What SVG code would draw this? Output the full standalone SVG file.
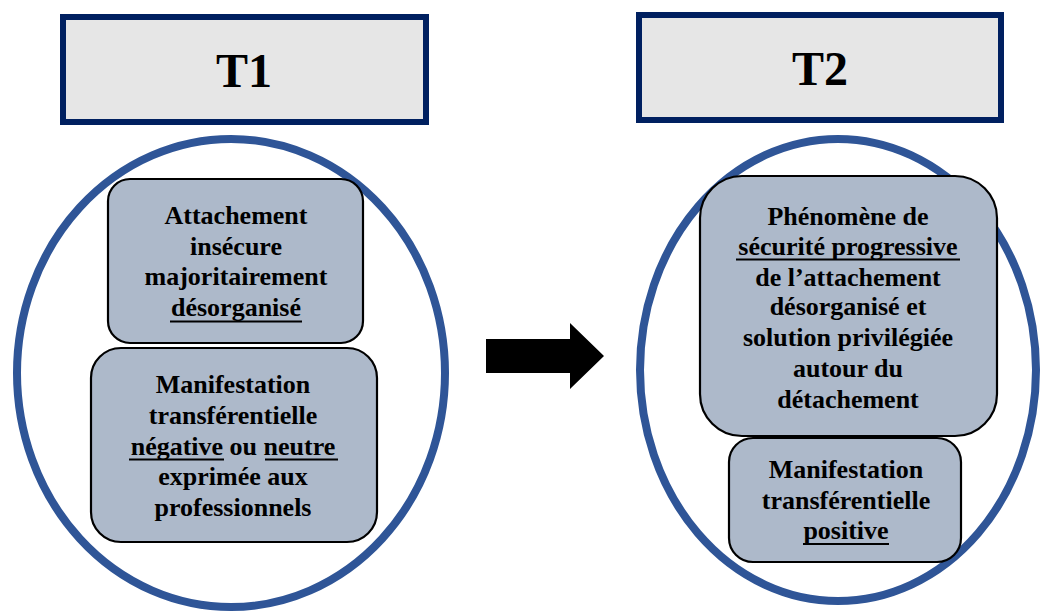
<svg xmlns="http://www.w3.org/2000/svg" width="1040" height="612" viewBox="0 0 1040 612">
<style>
.title{fill:#e6e6e6;stroke:#002060;stroke-width:6}
.ttl{font-family:"Liberation Serif","Times New Roman",serif;font-weight:bold;font-size:48px;text-anchor:middle;fill:#000}
.ell{fill:none;stroke:#2f5597;stroke-width:8}
.box{fill:#adb9ca;stroke:#000;stroke-width:2.2}
.t{font-family:"Liberation Serif","Times New Roman",serif;font-weight:bold;font-size:26px;text-anchor:middle;fill:#000}
.ul{stroke:#000;stroke-width:2}
</style>
<rect width="1040" height="612" fill="#fff"/>
<g id="t1-title">
<rect class="title" x="63" y="17" width="363" height="105"/>
<text class="ttl" x="244" y="87">T1</text>
</g>
<g id="t2-title">
<rect class="title" x="639" y="15" width="362" height="105"/>
<text class="ttl" x="820" y="85">T2</text>
</g>
<g id="t1-group">
<ellipse class="ell" cx="231" cy="373" rx="214" ry="234"/>
</g>
<g id="t2-group">
<ellipse class="ell" cx="838" cy="370" rx="198" ry="231"/>
</g>
<g id="t1-attachement">
<rect class="box" x="108" y="179" width="255" height="164" rx="22"/>
<text class="t" x="236" y="224">Attachement</text>
<text class="t" x="236" y="255">insécure</text>
<text class="t" x="236" y="285">majoritairement</text>
<text class="t" x="236" y="316">désorganisé</text>
<line class="ul" x1="170" y1="321.5" x2="302" y2="321.5"/>
</g>
<g id="t1-manifestation">
<rect class="box" x="91" y="348" width="286" height="194" rx="30"/>
<text class="t" x="233" y="393">Manifestation</text>
<text class="t" x="233" y="424">transférentielle</text>
<text class="t" x="233" y="455">négative ou neutre</text>
<line class="ul" x1="129" y1="459.5" x2="224" y2="459.5"/>
<line class="ul" x1="265" y1="459.5" x2="338" y2="459.5"/>
<text class="t" x="233" y="485">exprimée aux</text>
<text class="t" x="233" y="516">professionnels</text>
</g>
<g id="t2-phenomene">
<rect class="box" x="700" y="176" width="297" height="260" rx="42"/>
<text class="t" x="848" y="225">Phénomène de</text>
<text class="t" x="848" y="255">sécurité progressive</text>
<line class="ul" x1="736" y1="259.5" x2="960" y2="259.5"/>
<text class="t" x="848" y="286">de l’attachement</text>
<text class="t" x="848" y="315">désorganisé et</text>
<text class="t" x="848" y="346">solution privilégiée</text>
<text class="t" x="848" y="377">autour du</text>
<text class="t" x="848" y="408">détachement</text>
</g>
<g id="t2-manifestation">
<rect class="box" x="729" y="438" width="232" height="124" rx="24"/>
<text class="t" x="846" y="478">Manifestation</text>
<text class="t" x="846" y="509">transférentielle</text>
<text class="t" x="846" y="539">positive</text>
<line class="ul" x1="803" y1="544" x2="889" y2="544"/>
</g>
<g id="connectors">
<polygon points="486,339 570,339 570,323 604,356 570,389 570,373 486,373" fill="#000"/>
</g>
</svg>
